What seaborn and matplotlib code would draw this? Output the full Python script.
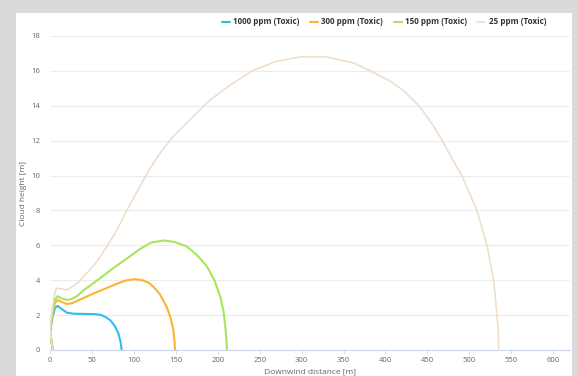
import pandas as pd
import seaborn as sns
import matplotlib.pyplot as plt
from matplotlib.patches import Rectangle

# Cloud profiles: downwind distance [m] vs cloud height [m]
x_1000 = [3.5, 0, 3, 6, 9, 14, 20, 28, 40, 52, 60, 66, 72, 77, 81.5, 84, 85.5]
y_1000 = [0, 1.0, 1.9, 2.4, 2.53, 2.35, 2.14, 2.08, 2.07, 2.06, 2.02, 1.9, 1.7, 1.4, 0.96, 0.5, 0]

x_300 = [3.5, 0, 3, 6, 9, 14, 20, 26, 33, 40, 50, 60, 68, 80, 90, 101, 110, 118,
         123, 131, 139, 144, 147, 148.5, 149]
y_300 = [0, 1.0, 2.1, 2.7, 2.87, 2.75, 2.64, 2.68, 2.83, 2.98, 3.2, 3.4, 3.56, 3.8,
         3.98, 4.06, 4.0, 3.85, 3.64, 3.2, 2.49, 1.8, 1.15, 0.5, 0]

x_150 = [3.5, 0, 3, 6, 9, 14, 20, 26, 33, 40, 48, 58, 68, 80, 95, 107, 120, 135,
         148, 163, 175, 187, 196, 203, 207, 209, 210.5, 211]
y_150 = [0, 1.0, 2.2, 2.9, 3.08, 2.95, 2.87, 2.92, 3.12, 3.42, 3.7, 4.05, 4.42,
         4.85, 5.36, 5.78, 6.15, 6.28, 6.2, 5.94, 5.45, 4.8, 4.0, 3.06, 2.2, 1.34, 0.5, 0]

x_25 = [3.5, 0, 3, 6, 8, 14, 20, 28, 34, 40, 48, 56, 68, 80, 91, 104, 111, 119,
        133, 147, 167, 190, 215, 243, 270, 298, 330, 362, 382, 406, 422, 440, 455,
        467, 479, 491, 500, 509, 521, 529, 533, 534.5, 535]
y_25 = [0, 1.1, 2.5, 3.3, 3.55, 3.5, 3.45, 3.66, 3.9, 4.22, 4.62, 5.07, 5.94, 6.9,
        7.95, 9.1, 9.7, 10.4, 11.4, 12.25, 13.2, 14.3, 15.2, 16.05, 16.55, 16.8,
        16.8, 16.45, 16.0, 15.4, 14.85, 14.0, 13.0, 12.07, 11.0, 10.0, 9.0, 8.0,
        6.0, 4.0, 2.0, 1.0, 0]

series = ["1000 ppm (Toxic)", "300 ppm (Toxic)", "150 ppm (Toxic)", "25 ppm (Toxic)"]
colors = ["#2ebdf2", "#ffb133", "#a9e55c", "#eedcc8"]

frames = []
for name, xs, ys in zip(series, [x_1000, x_300, x_150, x_25], [y_1000, y_300, y_150, y_25]):
    frames.append(pd.DataFrame({"distance": xs, "height": ys, "level": name}))
df = pd.concat(frames, ignore_index=True)

sns.set_style("white")
plt.rcParams["font.family"] = ["Open Sans", "DejaVu Sans"]

fig = plt.figure(figsize=(5.78, 3.76), dpi=100)
fig.patch.set_facecolor("#d9dadc")
panel = Rectangle((16 / 578, 0), 556 / 578, 1 - 13 / 376,
                  transform=fig.transFigure, facecolor="white",
                  edgecolor="none", zorder=-10)
fig.add_artist(panel)

ax = fig.add_axes([50 / 578, 1 - 350 / 376, 520 / 578, 314 / 376])
ax.set_facecolor("none")
ax.set_zorder(1)

sns.lineplot(data=df, x="distance", y="height", hue="level", hue_order=series,
             palette=colors, sort=False, estimator=None, units="level",
             linewidth=1.5, ax=ax)
for line in ax.get_lines():
    if line.get_color() == colors[3]:
        line.set_linewidth(1.1)

ax.set_xlim(0, 620)
ax.set_ylim(0, 18)
ax.set_xticks(range(0, 601, 50))
ax.set_yticks(range(0, 19, 2))
ax.grid(axis="y", color="#ececec", linewidth=0.8)
ax.grid(axis="x", visible=False)
for s in ["top", "right", "left"]:
    ax.spines[s].set_visible(False)
ax.spines["bottom"].set_color("#ccd6eb")
ax.spines["bottom"].set_linewidth(0.8)
ax.tick_params(axis="x", colors="#666666", labelsize=5.5, length=3, width=0.6,
               color="#ccd6eb", pad=2, bottom=True)
ax.tick_params(axis="y", colors="#666666", labelsize=5.5, length=0, pad=7)
ax.set_xlabel("Downwind distance [m]", fontsize=6, color="#666666", labelpad=3)
ax.set_ylabel("Cloud height [m]", fontsize=6, color="#666666", labelpad=3)

handles, labels = ax.get_legend_handles_labels()
ax.legend(handles, labels, loc="center", bbox_to_anchor=(384 / 578, 1 - 22 / 376),
          bbox_transform=fig.transFigure, ncol=4, frameon=False,
          prop={"size": 5.8, "weight": "bold"}, labelcolor="#333333",
          handlelength=1.0, handletextpad=0.4, columnspacing=1.3)

plt.savefig("out.png", dpi=100)
